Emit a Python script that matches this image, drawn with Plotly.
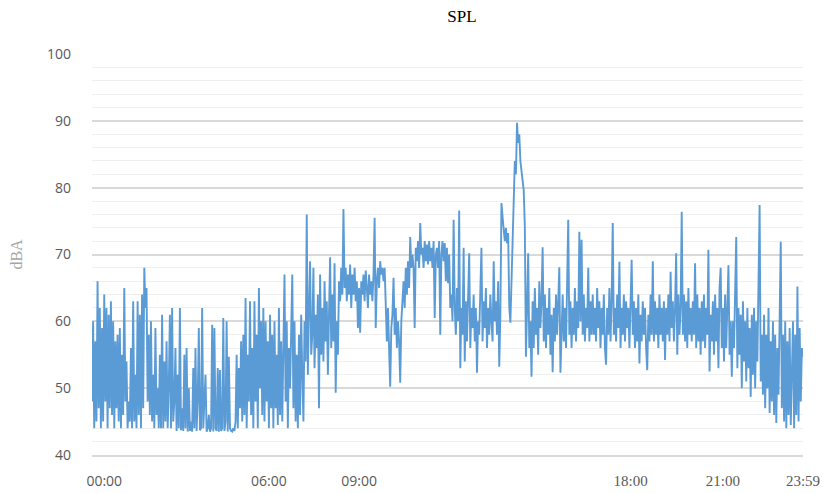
import plotly.graph_objects as go

# SPL readings (dBA), sampled left-to-right across the day
spl_dba = [
    48, 60, 44, 57, 45, 66, 47, 62, 44,
    59, 45, 64, 48, 62, 44, 61, 47, 63,
    46, 60, 44, 57, 47, 58, 45, 59, 44,
    55, 46, 65, 48, 54, 44, 48, 45, 56,
    44, 63, 45, 52, 44, 63, 46, 61, 44,
    64, 47, 68, 62, 65, 48, 58, 46, 60,
    45, 52, 44, 59, 46, 50, 44, 55, 44,
    61, 44, 54, 45, 57, 44, 50, 61, 44,
    62, 45, 48, 56, 43.6, 52, 44, 62, 43.7,
    47, 43.6, 55, 44, 56, 43.5, 50, 43.6, 45,
    43.5, 53, 44, 56, 43.6, 48, 59, 43.7, 44,
    62, 44, 47, 52, 43.5, 44, 46, 43.5, 44,
    59.5, 43.5, 59, 44, 43.6, 53, 43.5, 52.7, 43.6,
    44, 60.5, 43.6, 45, 60, 43.5, 54.7, 44, 43.6,
    43.5, 44, 43.6, 45, 55, 44, 53, 47, 57,
    45, 58, 46, 63.5, 44, 55, 48, 63, 46,
    56, 44, 63, 48, 58, 44, 65, 50, 60,
    46, 62, 45, 60, 48, 57, 44, 61, 47,
    58, 44, 60, 47, 55, 44.5, 62, 46, 57,
    45, 58, 67, 48, 60, 44, 56, 50, 62,
    67, 47, 60, 45, 55, 44, 58, 46, 61,
    52, 45, 60, 54, 76, 52, 62, 69, 55,
    58, 68, 53, 61, 56, 64, 47, 67, 55,
    62, 54, 66, 57, 63, 52, 61, 69.6, 56,
    64, 57, 68.7, 49.3, 60, 55, 66, 63, 68,
    64, 76.8, 65, 68, 63, 67, 64, 68.5, 62,
    67, 64, 68, 63, 66, 59, 65, 58.3, 66,
    64, 67, 63, 67.6, 65, 62, 67, 64, 66,
    63, 67, 75.5, 59, 66, 68, 65, 69, 67,
    68, 66, 68, 60, 57, 62, 55, 50.2, 59,
    61, 66.5, 58, 62, 56, 60, 57, 50.8, 60,
    63, 66, 62, 68, 64, 69, 65, 72.6, 68,
    70, 68, 59, 71, 69, 72, 68, 74.7, 70,
    71, 68, 72, 69, 71.5, 68.5, 72, 69, 71,
    68, 72, 60.5, 70, 71, 68, 72, 58, 70,
    72, 69, 71.7, 66, 71, 65.7, 70, 62, 64,
    60, 75.2, 62, 58, 65, 60, 76.6, 53, 62,
    58, 71, 54, 63, 57, 65, 70.2, 56, 62,
    59, 64, 57, 62, 52.3, 60, 58, 66, 71,
    57, 63, 59, 65, 56, 62, 58, 64, 60,
    57, 69, 60, 63, 58, 66, 53.2, 61, 77.7,
    75.6, 73, 72, 74, 71.7, 73.2, 62.2, 59.8, 66,
    73.6, 80, 84, 82, 89.7, 86.7, 88, 84, 82.6,
    81, 79.6, 74.1, 54.7, 62, 70.2, 56, 60, 51.7,
    63, 56, 65, 58, 62, 55, 66, 59, 63,
    71.1, 57, 64, 56, 62, 58, 65, 55, 61,
    52.4, 62, 57, 64, 58, 63, 68.1, 52.3, 60,
    64, 57, 62, 56, 65, 75.2, 58, 63, 56,
    62, 58, 65, 57, 63, 59, 73.4, 60, 72.2,
    58, 64, 57, 62, 59, 68, 57, 63, 58,
    64, 58, 62, 57, 65, 59, 63, 56, 62,
    58, 64, 56, 53.5, 62, 58, 65, 57, 63,
    74.7, 58, 62, 57, 64, 59, 68.9, 56, 62,
    58, 64, 57, 63, 59, 62, 56, 63, 69.2,
    58, 63, 56, 62, 57, 64, 53.7, 61, 57,
    63, 58, 62, 56, 52.7, 61, 57, 64, 58,
    69, 57, 63, 58, 62, 56, 64, 58, 62,
    57, 63, 54.2, 62, 58, 64, 57, 67.4, 59,
    63, 57, 62, 70.2, 55, 64, 58, 62, 76.4,
    58, 64, 57, 63, 56, 65, 58, 62, 57,
    63, 58, 68.7, 56, 64, 57, 62, 55, 63,
    57, 64, 56, 62, 58, 70.7, 52.5, 61, 57,
    63, 55, 64, 57, 62, 53, 65, 68, 56,
    62, 54, 64, 56, 63, 68.4, 55, 60, 51.7,
    60, 56, 63, 72.6, 53, 62, 55, 61, 50,
    63, 54, 60, 51, 62, 53, 59, 48.7, 61,
    52, 62, 50, 60, 54, 63, 77.4, 51, 58,
    49, 61, 47, 58, 50, 62, 46.3, 57, 48,
    60, 46, 58, 44.8, 56, 49, 61, 71.9, 47,
    58, 45, 60, 44, 57, 46, 59, 44.5, 55,
    60, 44, 58, 46, 65.2, 45, 59, 48, 56, 54.7,
]

# x-axis time labels and where they fall along the record (fraction of samples)
tick_labels = ["00:00", "06:00", "09:00", "18:00", "21:00", "23:59"]
tick_frac = [0.017, 0.249, 0.3755, 0.758, 0.8875, 1.0]
serif_labels = {"18:00", "21:00", "23:59"}

n = len(spl_dba)
sample_idx = list(range(n))
tick_vals = [round(f * (n - 1)) for f in tick_frac]
tick_text = [
    (f'<span style="font-family:Liberation Serif;font-size:15px">{t}</span>' if t in serif_labels else t)
    for t in tick_labels
]

fig = go.Figure()
fig.add_trace(go.Scatter(
    x=sample_idx, y=spl_dba, mode="lines",
    line=dict(color="#5B9BD5", width=1.9),
    showlegend=False, hoverinfo="skip",
))

# page body has an 8px default margin, so the figure is sized/offset to fit the 833x493 window
fig.update_layout(
    width=825, height=485,
    margin=dict(l=84, r=30, t=46, b=38, autoexpand=False),
    paper_bgcolor="white", plot_bgcolor="white",
    title=dict(text="SPL", x=0.5503, xanchor="center", y=0.9835, yanchor="middle",
               font=dict(family="Liberation Serif", size=17, color="#000000")),
    font=dict(family="Open Sans", color="#595959", size=14),
)
fig.update_xaxes(
    range=[0, n - 1], tickmode="array", tickvals=tick_vals, ticktext=tick_text,
    showgrid=False, zeroline=False, showline=True, linecolor="#d9d9d9", linewidth=1.5,
    ticks="", ticklabelstandoff=12, automargin=False,
    tickfont=dict(family="Open Sans", size=14, color="#595959"),
)
fig.update_yaxes(
    range=[40, 100], dtick=10, tick0=40,
    showgrid=True, gridcolor="#d9d9d9", gridwidth=1.5,
    minor=dict(dtick=2, showgrid=True, gridcolor="#efefef", gridwidth=1),
    zeroline=False, showline=False, ticks="", ticklabelstandoff=20, automargin=False,
    tickfont=dict(family="Open Sans", size=14, color="#595959"),
    title=dict(text="dBA", font=dict(family="Liberation Serif", size=16, color="#a6a6a6"), standoff=22),
)

fig.write_html("out.html")
